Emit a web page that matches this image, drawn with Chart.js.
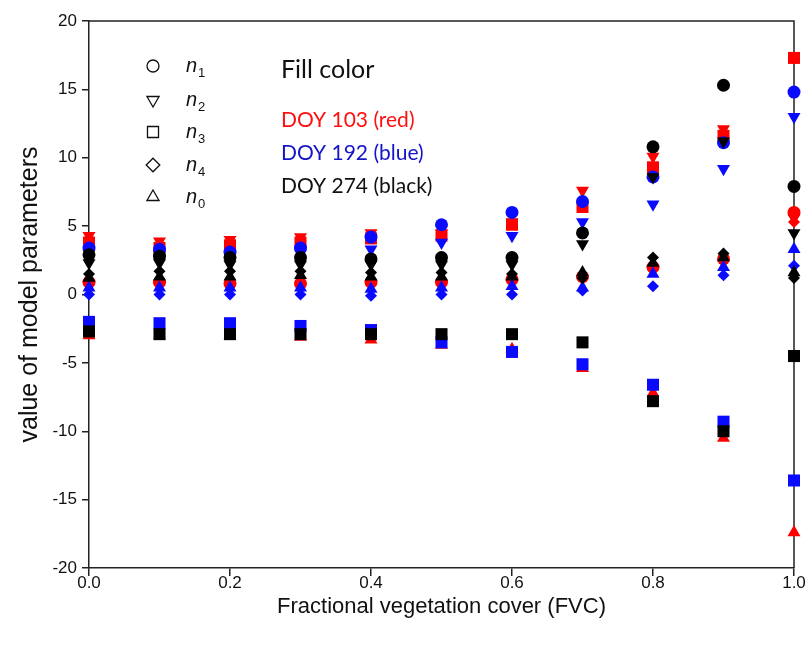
<!DOCTYPE html>
<html>
<head>
<meta charset="utf-8">
<script src="https://cdn.jsdelivr.net/npm/chart.js@4.4.1/dist/chart.umd.min.js"></script>
<style>
  html, body { margin: 0; padding: 0; background: #fff; }
  #wrap { width: 810px; height: 649px; position: relative; }
</style>
</head>
<body>
<div id="wrap"><canvas id="fvcChart"></canvas></div>
<script>
// x positions (FVC) and axis ticks
var fvc = [0.0, 0.1, 0.2, 0.3, 0.4, 0.5, 0.6, 0.7, 0.8, 0.9, 1.0];
var yMin = -20, yMax = 20, yStep = 5;
var xStep = 0.2;

var paramSubs = ['1', '2', '3', '4', '0'];
var fillTitle = 'Fill color';
var doyLabels = ['DOY 103 (red)', 'DOY 192 (blue)', 'DOY 274 (black)'];

// DOY 103 (red)
var redN1 = [0.9, 0.9, 0.8, 0.8, 0.9, 0.9, 1.1, 1.3, 2.0, 2.6, 6.0];
var redN2 = [4.3, 3.9, 4.0, 4.2, 4.5, 4.5, 5.3, 7.6, 10.1, 12.1, 5.6];
var redN3 = [3.8, 3.4, 3.6, 3.8, 4.1, 4.3, 5.1, 6.4, 9.3, 11.6, 17.3];
var redN4 = [0.8, 0.8, 0.8, 0.8, 0.8, 0.9, 1.0, 1.4, 2.0, 2.6, 5.3];
var redN0 = [-3.0, -3.0, -3.0, -3.1, -3.3, -3.7, -4.0, -5.4, -7.2, -10.5, -17.4];

// DOY 192 (blue)
var blueN1 = [3.4, 3.3, 3.1, 3.4, 4.2, 5.1, 6.0, 6.8, 8.6, 11.1, 14.8];
var blueN2 = [3.0, 2.9, 2.8, 3.0, 3.3, 3.8, 4.3, 5.3, 6.6, 9.2, 13.0];
var blueN3 = [-2.0, -2.1, -2.1, -2.3, -2.6, -3.5, -4.2, -5.1, -6.6, -9.3, -13.6];
var blueN4 = [0.0, 0.0, 0.0, 0.0, -0.1, 0.0, 0.0, 0.3, 0.6, 1.4, 2.1];
var blueN0 = [0.5, 0.5, 0.5, 0.5, 0.4, 0.5, 0.6, 0.5, 1.5, 2.0, 3.3];

// DOY 274 (black)
var blackN1 = [2.9, 2.8, 2.7, 2.7, 2.6, 2.7, 2.7, 4.5, 10.8, 15.3, 7.9];
var blackN2 = [2.3, 2.3, 2.2, 2.2, 2.2, 2.2, 2.2, 3.7, 8.6, 11.2, 4.5];
var blackN3 = [-2.7, -2.9, -2.9, -2.9, -2.9, -2.9, -2.9, -3.5, -7.8, -10.0, -4.5];
var blackN4 = [1.5, 1.7, 1.7, 1.7, 1.6, 1.6, 1.5, 1.2, 2.7, 3.0, 1.2];
var blackN0 = [1.2, 1.3, 1.3, 1.4, 1.3, 1.3, 1.3, 1.6, 2.3, 2.7, 1.6];

var RED = '#ff0000', BLUE = '#0a0aff', BLACK = '#000000';

// marker per parameter: n1 circle, n2 down triangle, n3 square, n4 diamond, n0 up triangle
var markers = [
  { pointStyle: 'circle', rotation: 0, radius: 6.5 },
  { pointStyle: 'triangle', rotation: 180, radius: 7.5 },
  { pointStyle: 'rect', rotation: 0, radius: 8.5 },
  { pointStyle: 'rectRot', rotation: 0, radius: 6 },
  { pointStyle: 'triangle', rotation: 0, radius: 7.5 }
];

function makeSet(label, values, color, m) {
  return {
    label: label,
    data: values.map(function(v, i) { return { x: fvc[i], y: v }; }),
    pointStyle: m.pointStyle,
    rotation: m.rotation,
    pointRadius: m.radius,
    pointHoverRadius: m.radius,
    backgroundColor: color,
    borderColor: color,
    borderWidth: 0,
    showLine: false,
    clip: false
  };
}

// first dataset is drawn on top, so black goes first
var groups = [
  { color: BLACK, name: 'DOY 274', sets: [blackN1, blackN2, blackN3, blackN4, blackN0] },
  { color: BLUE, name: 'DOY 192', sets: [blueN1, blueN2, blueN3, blueN4, blueN0] },
  { color: RED, name: 'DOY 103', sets: [redN1, redN2, redN3, redN4, redN0] }
];
var datasets = [];
groups.forEach(function(g) {
  g.sets.forEach(function(vals, k) {
    datasets.push(makeSet(g.name + ' n' + paramSubs[k], vals, g.color, markers[k]));
  });
});

var frameAndKey = {
  id: 'frameAndKey',
  beforeDatasetsDraw: function(chart) {
    var ctx = chart.ctx, a = chart.chartArea;
    ctx.save();
    ctx.strokeStyle = '#222';
    ctx.lineWidth = 1.5;
    ctx.beginPath();
    ctx.moveTo(a.left, a.top);
    ctx.lineTo(a.right, a.top);
    ctx.lineTo(a.right, a.bottom);
    ctx.stroke();
    ctx.restore();
  },
  afterDraw: function(chart) {
    var ctx = chart.ctx;
    var rowY = [66, 100, 132, 165, 197];
    var keyRadius = [6, 7, 7.8, 6.8, 7];
    ctx.save();
    // open marker key
    markers.forEach(function(m, k) {
      ctx.fillStyle = 'rgba(0,0,0,0)';
      ctx.strokeStyle = '#111';
      ctx.lineWidth = 1.3;
      Chart.helpers.drawPoint(ctx, {
        pointStyle: m.pointStyle, rotation: m.rotation,
        radius: keyRadius[k], borderWidth: 1.3
      }, 153, rowY[k]);
      ctx.fillStyle = '#111';
      ctx.textBaseline = 'middle';
      ctx.textAlign = 'left';
      ctx.font = 'italic 20px "Liberation Sans"';
      ctx.fillText('n', 186, rowY[k]);
      var w = ctx.measureText('n').width;
      ctx.font = '13px "Liberation Sans"';
      ctx.fillText(paramSubs[k], 186 + w + 1, rowY[k] + 7);
    });
    // fill colour notes
    ctx.textBaseline = 'middle';
    ctx.textAlign = 'left';
    ctx.font = '25px Lato';
    ctx.fillStyle = '#111';
    ctx.fillText(fillTitle, 281, 70);
    var doyColors = ['#ff1010', '#1414c8', '#111'];
    var doyY = [120, 153, 186];
    ctx.font = '21px Lato';
    doyLabels.forEach(function(t, i) {
      ctx.fillStyle = doyColors[i];
      ctx.fillText(t, 281, doyY[i]);
    });
    ctx.restore();
  }
};

var tickFont = { family: 'Liberation Sans', size: 17 };

new Chart(document.getElementById('fvcChart').getContext('2d'), {
  type: 'scatter',
  data: { datasets: datasets },
  options: {
    responsive: true,
    maintainAspectRatio: false,
    animation: false,
    events: [],
    layout: { padding: { left: 0, right: 16, top: 21, bottom: 0 } },
    plugins: { legend: { display: false }, tooltip: { enabled: false } },
    scales: {
      x: {
        type: 'linear', min: 0, max: 1,
        ticks: {
          stepSize: xStep, color: '#111', font: tickFont, padding: -3, maxRotation: 0,
          callback: function(v) { return v.toFixed(1); }
        },
        grid: { display: true, drawOnChartArea: false, drawTicks: true, tickLength: 8, color: '#222', lineWidth: 1.5 },
        border: { display: true, color: '#222', width: 1.5 },
        title: { display: true, text: 'Fractional vegetation cover (FVC)', color: '#111', font: { family: 'Liberation Sans', size: 22 }, padding: { top: 0, bottom: 29 } },
        afterFit: function(s) { s.height = 81; }
      },
      y: {
        type: 'linear', min: yMin, max: yMax,
        ticks: { stepSize: yStep, color: '#111', font: tickFont, padding: 5 },
        grid: { display: true, drawOnChartArea: false, drawTicks: true, tickLength: 7, color: '#222', lineWidth: 1.5 },
        border: { display: true, color: '#222', width: 1.5 },
        title: { display: true, text: 'value of model parameters', color: '#111', font: { family: 'Liberation Sans', size: 25 }, padding: { top: 15, bottom: 0 } },
        afterFit: function(s) { s.width = 89; }
      }
    }
  },
  plugins: [frameAndKey]
});
</script>
</body>
</html>
